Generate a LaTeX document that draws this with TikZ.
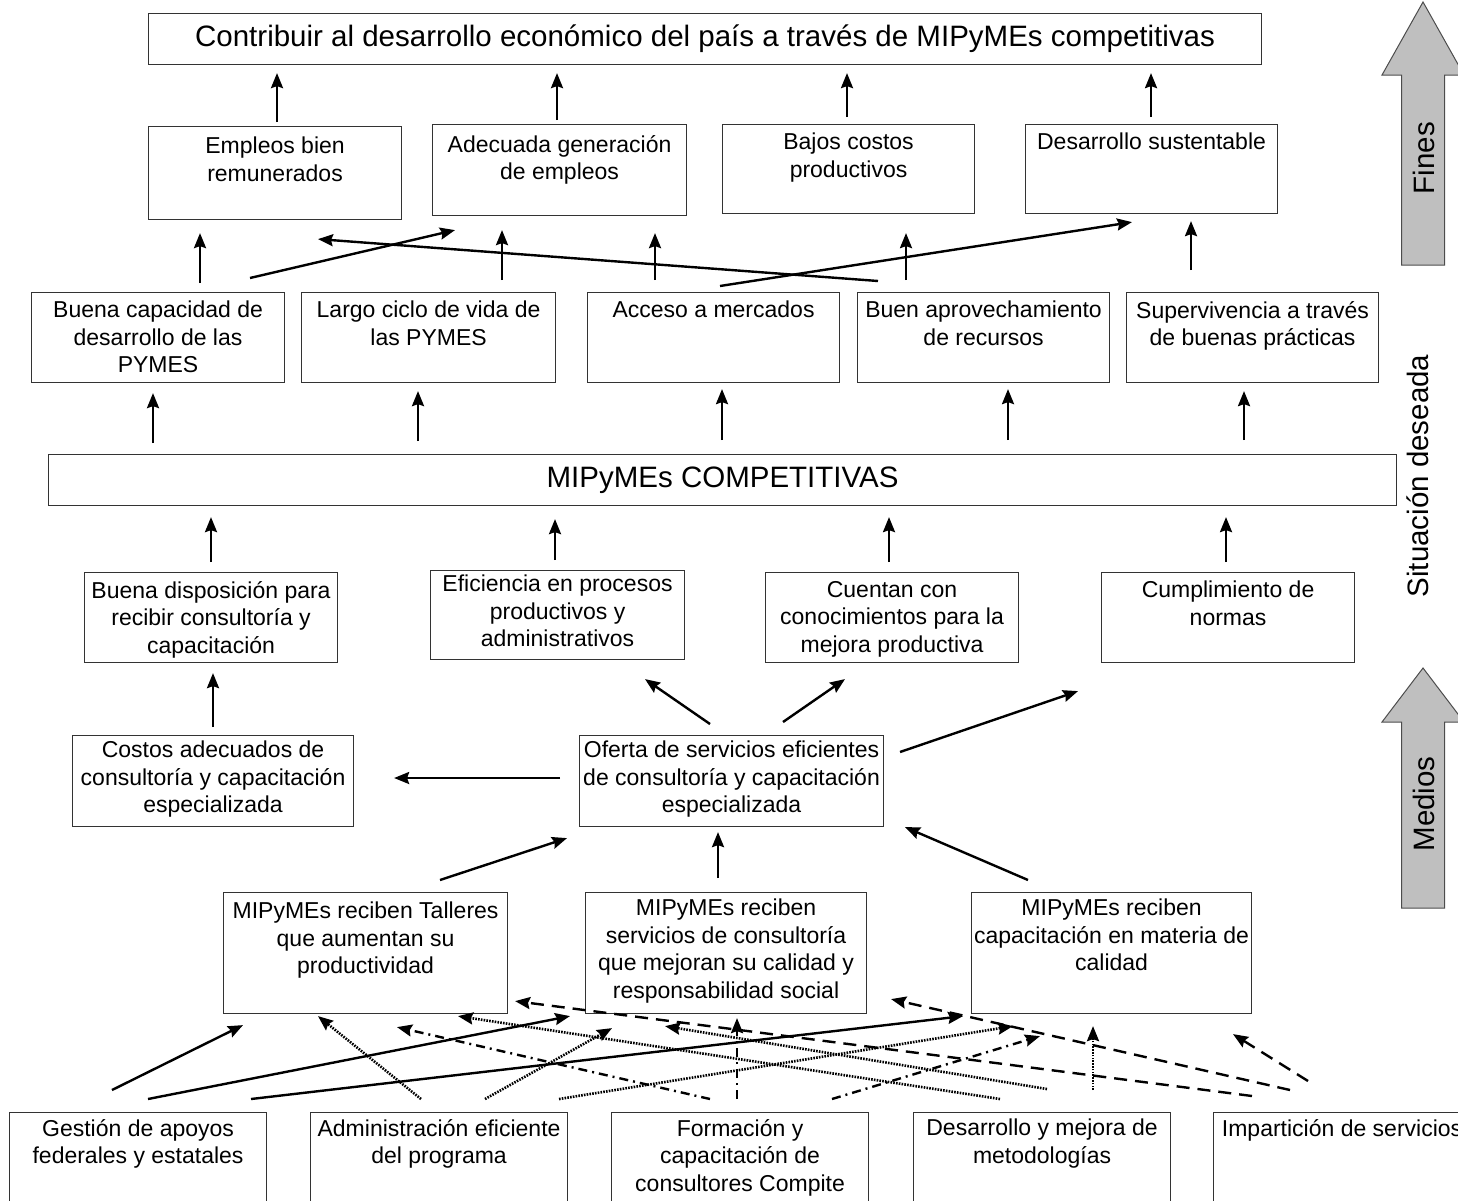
\documentclass[tikz,border=0pt]{standalone}
\usepackage{fontspec}
\setmainfont{Liberation Sans}
\usetikzlibrary{positioning,arrows.meta}

\begin{document}
\begin{tikzpicture}[
		x=1pt, y=-1pt,
		caja/.style={draw=black!80, line width=1.1pt, anchor=north west, inner sep=0pt},
		txt/.style={align=center, inner sep=0pt, font=\fontsize{23}{27.5}\selectfont},
		grande/.style={font=\fontsize{29.5}{34}\selectfont},
		flecha/.style={line width=2.4pt, -{Stealth[length=15pt,width=12pt,inset=2pt]}},
		punteada/.style={flecha, line width=2.6pt, dash pattern=on 1.6pt off 1.2pt},
		puntoraya/.style={flecha, dash pattern=on 9pt off 5pt on 2pt off 5pt},
		rayada/.style={flecha, dash pattern=on 13pt off 8pt},
		bloque/.style={fill=black!25, draw=black!70, line width=1pt}
	]
	\useasboundingbox (0,0) rectangle (1458,1200);
	\clip (0,0) rectangle (1458,1200);

	% fines
	\node[caja, grande, minimum width=1113pt, minimum height=51pt] (top) at (148,13)
		{Contribuir al desarrollo económico del país a través de MIPyMEs competitivas};
	\node[caja, minimum width=253pt, minimum height=93pt] (f1) at (148,126) {};
	\node[caja, minimum width=254pt, minimum height=91pt] (f2) at (432,124) {};
	\node[caja, minimum width=252pt, minimum height=89pt] (f3) at (722,124) {};
	\node[caja, minimum width=252pt, minimum height=89pt] (f4) at (1025,124) {};
	\node[txt, below=11pt of f1.north] (f1t) {Empleos bien\\remunerados};
	\node[txt, below=11pt of f2.north] (f2t) {Adecuada generación\\de empleos};
	\node[txt, below=9pt of f3.north] (f3t) {Bajos costos\\productivos};
	\node[txt, below=9pt of f4.north] (f4t) {Desarrollo sustentable};

	% situacion deseada
	\node[caja, minimum width=253pt, minimum height=90pt] (s1) at (31,292) {};
	\node[caja, minimum width=254pt, minimum height=90pt] (s2) at (301,292) {};
	\node[caja, minimum width=252pt, minimum height=90pt] (s3) at (587,292) {};
	\node[caja, minimum width=252pt, minimum height=90pt] (s4) at (857,292) {};
	\node[caja, minimum width=252pt, minimum height=90pt] (s5) at (1126,292) {};
	\node[txt, below=9pt of s1.north] (s1t) {Buena capacidad de\\desarrollo de las\\PYMES};
	\node[txt, below=9pt of s2.north] (s2t) {Largo ciclo de vida de\\las PYMES};
	\node[txt, below=9pt of s3.north] (s3t) {Acceso a mercados};
	\node[txt, below=9pt of s4.north] (s4t) {Buen aprovechamiento\\de recursos};
	\node[txt, below=9pt of s5.north] (s5t) {Supervivencia a través\\de buenas prácticas};

	\node[caja, grande, minimum width=1348pt, minimum height=51pt] (mc) at (48,454) {MIPyMEs COMPETITIVAS};

	\node[caja, minimum width=253pt, minimum height=90pt] (r1) at (84,572) {};
	\node[caja, minimum width=254pt, minimum height=89pt] (r2) at (430,570) {};
	\node[caja, minimum width=253pt, minimum height=90pt] (r3) at (765,572) {};
	\node[caja, minimum width=253pt, minimum height=90pt] (r4) at (1101,572) {};
	\node[txt, below=9pt of r1.north] (r1t) {Buena disposición para\\recibir consultoría y\\capacitación};
	\node[txt, below=5pt of r2.north] (r2t) {Eficiencia en procesos\\productivos y\\administrativos};
	\node[txt, below=9pt of r3.north] (r3t) {Cuentan con\\conocimientos para la\\mejora productiva};
	\node[txt, below=9pt of r4.north] (r4t) {Cumplimiento de\\normas};

	% medios
	\node[caja, minimum width=281pt, minimum height=91pt] (c1) at (72,735) {};
	\node[caja, minimum width=304pt, minimum height=91pt] (c2) at (579,735) {};
	\node[txt, below=6pt of c1.north] (c1t) {Costos adecuados de\\consultoría y capacitación\\especializada};
	\node[txt, below=6pt of c2.north] (c2t) {Oferta de servicios eficientes\\de consultoría y capacitación\\especializada};

	\node[caja, minimum width=284pt, minimum height=121pt] (m1) at (223,892) {};
	\node[caja, minimum width=281pt, minimum height=121pt] (m2) at (585,892) {};
	\node[caja, minimum width=280pt, minimum height=121pt] (m3) at (971,892) {};
	\node[txt, below=10pt of m1.north] (m1t) {MIPyMEs reciben Talleres\\que aumentan su\\productividad};
	\node[txt, below=7pt of m2.north] (m2t) {MIPyMEs reciben\\servicios de consultoría\\que mejoran su calidad y\\responsabilidad social};
	\node[txt, below=7pt of m3.north] (m3t) {MIPyMEs reciben\\capacitación en materia de\\calidad};

	\node[caja, minimum width=257pt, minimum height=100pt] (b1) at (9,1112) {};
	\node[caja, minimum width=257pt, minimum height=100pt] (b2) at (310,1112) {};
	\node[caja, minimum width=257pt, minimum height=100pt] (b3) at (611,1112) {};
	\node[caja, minimum width=257pt, minimum height=100pt] (b4) at (913,1112) {};
	\node[caja, minimum width=257pt, minimum height=100pt] (b5) at (1213,1112) {};
	\node[txt, below=7pt of b1.north] (b1t) {Gestión de apoyos\\federales y estatales};
	\node[txt, below=7pt of b2.north] (b2t) {Administración eficiente\\del programa};
	\node[txt, below=7pt of b3.north] (b3t) {Formación y\\capacitación de\\consultores Compite};
	\node[txt, below=7pt of b4.north] (b4t) {Desarrollo y mejora de\\metodologías};
	\node[txt, below=7pt of b5.north] (b5t) {Impartición de servicios};

	% flechas grises
	\draw[bloque] (1401.5,265) -- (1401.5,75) -- (1382,75) -- (1423,2) -- (1464,75)
		-- (1444.5,75) -- (1444.5,265) -- cycle;
	\draw[bloque] (1401.5,908) -- (1401.5,722) -- (1382,722) -- (1423,668) -- (1464,722)
		-- (1444.5,722) -- (1444.5,908) -- cycle;
	\node[grande, rotate=90] (fines) at (1424,158) {Fines};
	\node[grande, rotate=90] (medios) at (1424,804) {Medios};
	\node[grande, rotate=90] (situacion) at (1418,476) {Situación deseada};

	% fines -> fin
	\draw[flecha] ([shift={(129,-4)}]f1.north west) -- ([shift={(129,8)}]top.south west);
	\draw[flecha] ([shift={(125,-4)}]f2.north west) -- ([shift={(409,8)}]top.south west);
	\draw[flecha] ([shift={(125,-7)}]f3.north west) -- ([shift={(699,8)}]top.south west);
	\draw[flecha] ([shift={(126,-7)}]f4.north west) -- ([shift={(1003,8)}]top.south west);

	\draw[flecha] ([shift={(169,-9)}]s1.north west) -- ([shift={(52,13)}]f1.south west);
	\draw[flecha] ([shift={(219,-14)}]s1.north west) -- ([shift={(23,14)}]f2.south west);
	\draw[flecha] ([shift={(201,-12)}]s2.north west) -- ([shift={(70,14)}]f2.south west);
	\draw[flecha] ([shift={(68,-12)}]s3.north west) -- ([shift={(223,17)}]f2.south west);
	\draw[flecha] ([shift={(21,-11)}]s4.north west) -- ([shift={(170,19)}]f1.south west);
	\draw[flecha] ([shift={(133,-6)}]s3.north west) -- ([shift={(107,8)}]f4.south west);
	\draw[flecha] ([shift={(49,-12)}]s4.north west) -- ([shift={(184,19)}]f3.south west);
	\draw[flecha] ([shift={(65,-22)}]s5.north west) -- ([shift={(166,7)}]f4.south west);

	\draw[flecha] ([shift={(105,-11)}]mc.north west) -- ([shift={(122,10)}]s1.south west);
	\draw[flecha] ([shift={(370,-13)}]mc.north west) -- ([shift={(117,8)}]s2.south west);
	\draw[flecha] ([shift={(674,-14)}]mc.north west) -- ([shift={(135,6)}]s3.south west);
	\draw[flecha] ([shift={(960,-14)}]mc.north west) -- ([shift={(151,6)}]s4.south west);
	\draw[flecha] ([shift={(1196,-14)}]mc.north west) -- ([shift={(118,8)}]s5.south west);

	\draw[flecha] ([shift={(127,-10)}]r1.north west) -- ([shift={(163,11)}]mc.south west);
	\draw[flecha] ([shift={(125,-10)}]r2.north west) -- ([shift={(507,13)}]mc.south west);
	\draw[flecha] ([shift={(124,-10)}]r3.north west) -- ([shift={(841,11)}]mc.south west);
	\draw[flecha] ([shift={(125,-10)}]r4.north west) -- ([shift={(1178,11)}]mc.south west);

	% medios
	\draw[flecha] ([shift={(141,-8)}]c1.north west) -- ([shift={(129,10)}]r1.south west);
	\draw[flecha] ([shift={(-19,43)}]c2.north west) -- ([shift={(40,43)}]c1.north east);
	\draw[flecha] ([shift={(131,-11)}]c2.north west) -- ([shift={(215,19)}]r2.south west);
	\draw[flecha] ([shift={(204,-13)}]c2.north west) -- ([shift={(80,16)}]r3.south west);
	\draw[flecha] ([shift={(321,17)}]c2.north west) -- ([shift={(-23,28)}]r4.south west);

	\draw[flecha] ([shift={(217,-12)}]m1.north west) -- ([shift={(-12,11)}]c2.south west);
	\draw[flecha] ([shift={(133,-14)}]m2.north west) -- ([shift={(139,5)}]c2.south west);
	\draw[flecha] ([shift={(57,-12)}]m3.north west) -- ([shift={(326,0)}]c2.south west);

	% actividades -> componentes
	\draw[flecha] ([shift={(103,-22)}]b1.north west) -- ([shift={(20,11)}]m1.south west);
	\draw[flecha] ([shift={(139,-13)}]b1.north west) -- ([shift={(-15,2)}]m2.south west);
	\draw[flecha] ([shift={(242,-13)}]b1.north west) -- ([shift={(-8,2)}]m3.south west);

	\draw[punteada] ([shift={(111,-13)}]b2.north west) -- ([shift={(95,2)}]m1.south west);
	\draw[punteada] ([shift={(175,-13)}]b2.north west) -- ([shift={(27,14)}]m2.south west);
	\draw[punteada] ([shift={(249,-13)}]b2.north west) -- ([shift={(42,12)}]m3.south west);

	\draw[puntoraya] ([shift={(99,-13)}]b3.north west) -- ([shift={(174,13)}]m1.south west);
	\draw[puntoraya] ([shift={(126,-13)}]b3.north west) -- ([shift={(152,4)}]m2.south west);
	\draw[puntoraya] ([shift={(221,-13)}]b3.north west) -- ([shift={(69,22)}]m3.south west);

	\draw[punteada] ([shift={(87,-13)}]b4.north west) -- ([shift={(235,2)}]m1.south west);
	\draw[punteada] ([shift={(134,-23)}]b4.north west) -- ([shift={(80,12)}]m2.south west);
	\draw[punteada] ([shift={(180,-22)}]b4.north west) -- ([shift={(122,12)}]m3.south west);

	\draw[rayada] ([shift={(39,-16)}]b5.north west) -- ([shift={(7,-13)}]m1.south east);
	\draw[rayada] ([shift={(77,-22)}]b5.north west) -- ([shift={(24,-15)}]m2.south east);
	\draw[rayada] ([shift={(95,-31)}]b5.north west) -- ([shift={(262,20)}]m3.south west);
\end{tikzpicture}
\end{document}
